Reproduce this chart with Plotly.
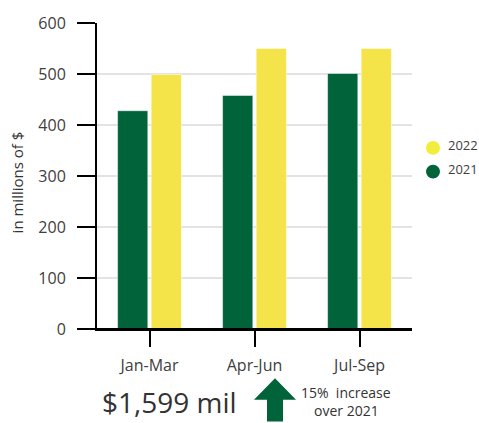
import plotly.graph_objects as go

# Quarterly revenue, in millions of dollars
quarters = ["Jan-Mar", "Apr-Jun", "Jul-Sep"]
rev_2021 = [428, 458, 501]
rev_2022 = [499, 550, 550]
y_ticks = [0, 100, 200, 300, 400, 500, 600]

total_2022 = sum(rev_2022)
growth_pct = round((total_2022 / sum(rev_2021) - 1) * 100)

GREEN = "#01633A"
YELLOW = "#F5E34A"
LEGEND_YELLOW = "#F2EC3C"
TEXT = "#404040"
FONT = "Open Sans"

W, H = 479, 423
ML, MR, MT, MB = 97, 67, 18, 94
PW, PH = W - ML - MR, H - MT - MB


def px(x):
    return (x - ML) / PW


def py(y):
    return (H - MB - y) / PH


fig = go.Figure()
fig.add_trace(go.Bar(x=quarters, y=rev_2021, name="2021", marker_color=GREEN,
                     marker_line=dict(color="rgba(255,255,255,0.5)", width=1)))
fig.add_trace(go.Bar(x=quarters, y=rev_2022, name="2022", marker_color=YELLOW,
                     marker_line=dict(color="rgba(255,255,255,0.5)", width=1)))

shapes = [
    # baseline extended under the y-axis ticks
    dict(type="line", xref="paper", yref="paper", x0=px(79), x1=1, y0=0, y1=0,
         line=dict(color="black", width=2)),
    # up arrow
    dict(type="path", xref="paper", yref="paper",
         path=("M {},{} L {},{} L {},{} L {},{} L {},{} L {},{} L {},{} Z".format(
             px(275), py(379), px(296), py(401), px(283), py(401),
             px(283), py(423), px(267), py(423), px(267), py(401),
             px(254), py(401))),
         fillcolor=GREEN, line=dict(width=0)),
]

annotations = [
    dict(text="in millions of $", textangle=-90, x=px(17), y=py(180),
         xref="paper", yref="paper", xanchor="center", yanchor="middle",
         showarrow=False, font=dict(family=FONT, size=15, color="#333333")),
    dict(text="${:,} mil".format(total_2022), x=px(100), y=py(403),
         xref="paper", yref="paper", xanchor="left", yanchor="middle",
         showarrow=False, font=dict(family=FONT, size=28, color="#333333")),
    dict(text="{}%  increase".format(growth_pct), x=px(346), y=py(393.5),
         xref="paper", yref="paper", xanchor="center", yanchor="middle",
         showarrow=False, borderpad=0,
         font=dict(family=FONT, size=14, color="#333333")),
    dict(text="over 2021", x=px(346), y=py(423),
         xref="paper", yref="paper", xanchor="center", yanchor="bottom",
         showarrow=False, borderpad=0,
         font=dict(family=FONT, size=14, color="#333333")),
]

# legend keys: circles with series names, 2022 above 2021
legend_items = [("2022", LEGEND_YELLOW, 145), ("2021", GREEN, 169)]
for name, color, cy in legend_items:
    shapes.append(dict(type="circle", xref="paper", yref="paper",
                       x0=px(426), x1=px(440), y0=py(cy + 7), y1=py(cy - 7),
                       fillcolor=color, line=dict(width=0)))
    annotations.append(dict(text=name, x=px(446), y=py(cy - 3),
                            xref="paper", yref="paper", xanchor="left",
                            yanchor="middle", showarrow=False,
                            font=dict(family=FONT, size=13, color=TEXT)))

fig.update_layout(
    width=W, height=H,
    margin=dict(l=ML, r=MR, t=MT, b=MB, pad=0),
    paper_bgcolor="white", plot_bgcolor="white",
    barmode="group", bargap=0.36, bargroupgap=0.1,
    font=dict(family=FONT, color=TEXT),
    showlegend=False,
    shapes=shapes,
    annotations=annotations,
)

fig.update_xaxes(
    showline=True, linecolor="black", linewidth=2,
    ticks="outside", ticklen=16, tickwidth=2, tickcolor="black",
    tickfont=dict(family=FONT, size=16, color=TEXT),
    ticklabelstandoff=5, showgrid=False, zeroline=False,
)
fig.update_yaxes(
    range=[0, 600], tickvals=y_ticks,
    showline=True, linecolor="black", linewidth=2,
    ticks="outside", ticklen=18, tickwidth=2, tickcolor="black",
    tickfont=dict(family=FONT, size=16, color=TEXT),
    ticklabelstandoff=8,
    showgrid=True, gridcolor="#E3E3E3", gridwidth=2, zeroline=False,
)

fig.write_html("out.html")
